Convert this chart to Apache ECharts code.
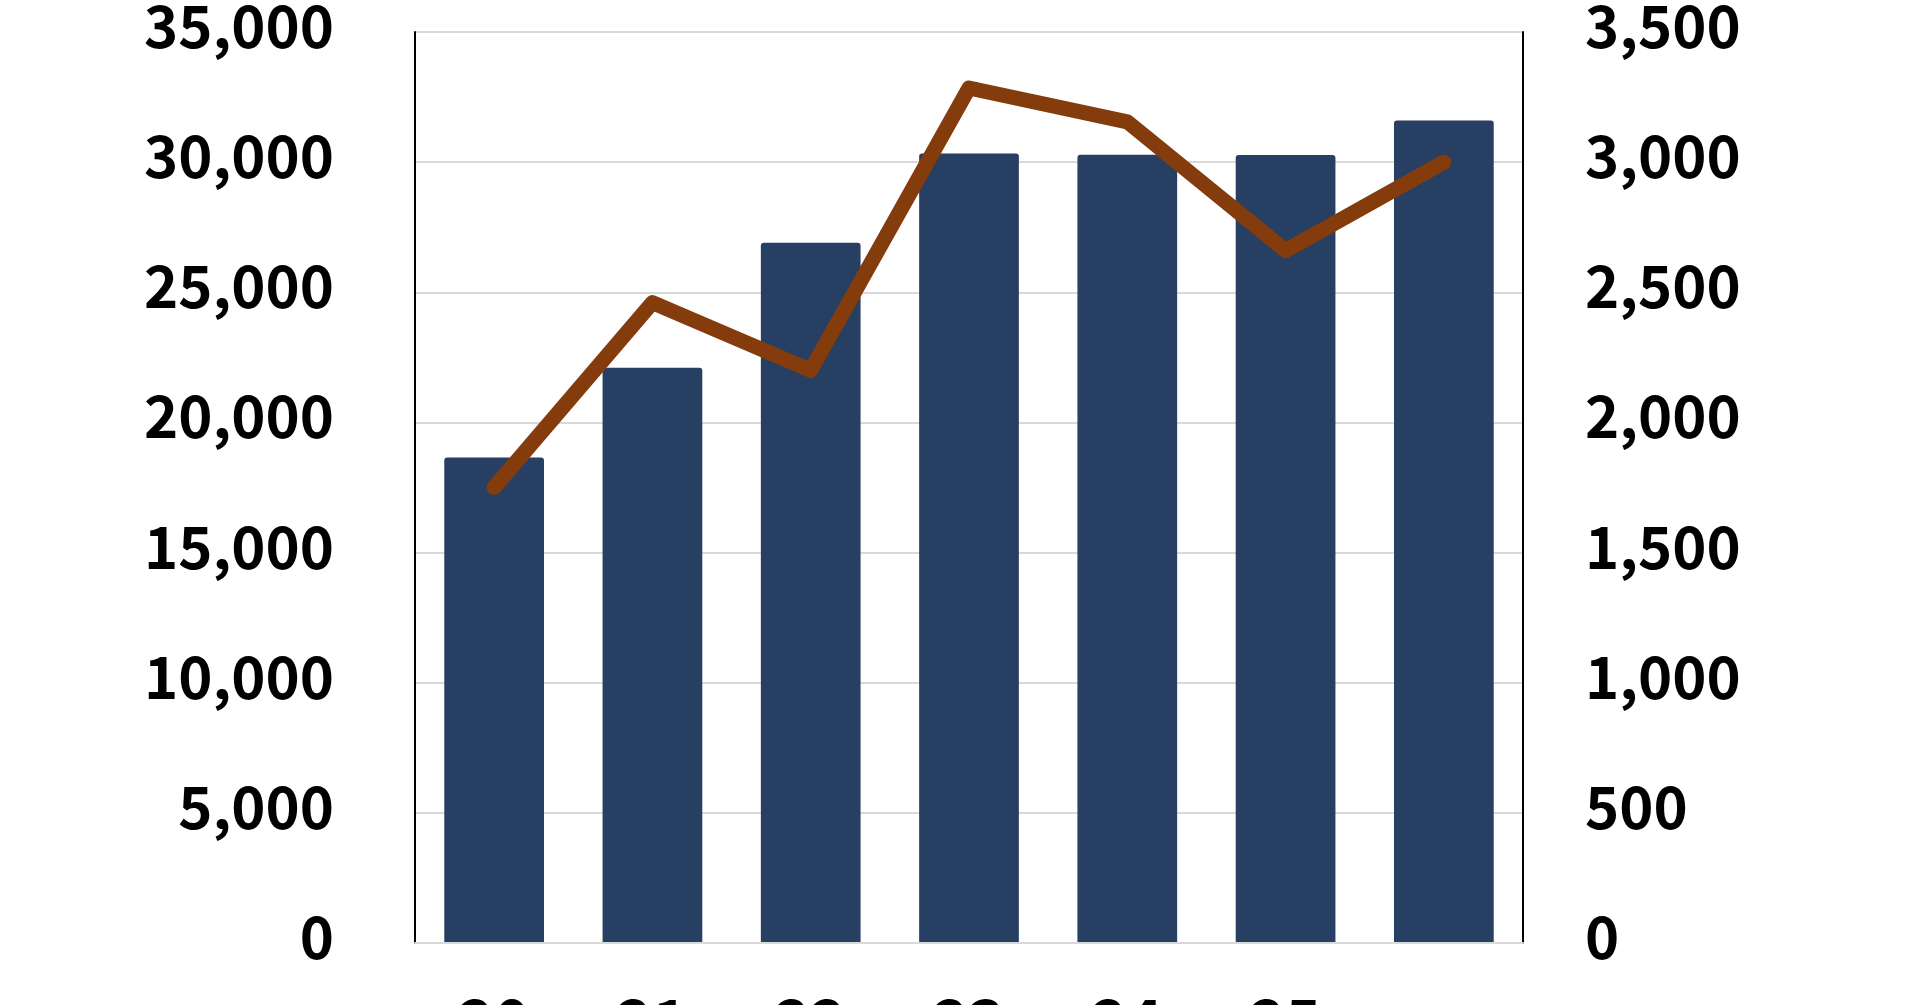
<!DOCTYPE html>
<html>
<head>
<meta charset="utf-8">
<script src="https://cdn.jsdelivr.net/npm/echarts@6/dist/echarts.min.js"></script>
<style>
html,body{margin:0;padding:0;background:#fff;}
#c{width:1920px;height:1005px;}
</style>
</head>
<body>
<div id="c"></div>
<script>
const categories = ['20', '21', '22', '23', '24', '25', ''];
const barValues = [18650, 22100, 26900, 30330, 30280, 30270, 31600];
const lineValues = [1750, 2460, 2200, 3285, 3155, 2660, 3000];
const leftTicks = { min: 0, max: 35000, interval: 5000 };
const rightTicks = { min: 0, max: 3500, interval: 500 };

const FONT = '"Noto Sans CJK JP", "Noto Sans", sans-serif';
const fmt = v => '{a|' + v.toLocaleString('en-US') + '}';
const richLabel = { a: { fontFamily: FONT, fontWeight: 'bold', fontSize: 58, color: '#000', padding: [0, 0, 12, 0] } };

const chart = echarts.init(document.getElementById('c'));
chart.setOption({
  animation: false,
  backgroundColor: '#ffffff',
  grid: { left: 415, right: 397, top: 32, bottom: 62, containLabel: false, outerBoundsMode: 'none' },
  xAxis: [
    {
      type: 'category',
      data: categories,
      position: 'bottom',
      axisLine: { show: true, lineStyle: { color: '#d9d9d9', width: 2 } },
      axisTick: { show: false },
      axisLabel: { margin: 47, color: '#000', fontFamily: FONT, fontWeight: 'bold', fontSize: 60 },
      z: 5
    },
    {
      type: 'category',
      data: categories,
      position: 'top',
      axisLine: { show: true, lineStyle: { color: '#000', width: 2 } },
      axisTick: { show: false },
      axisLabel: { show: false }
    }
  ],
  yAxis: [
    {
      type: 'value',
      min: leftTicks.min, max: leftTicks.max, interval: leftTicks.interval,
      position: 'left',
      axisLine: { show: true, lineStyle: { color: '#000', width: 2 } },
      axisTick: { show: false },
      splitLine: { show: true, lineStyle: { color: '#d9d9d9', width: 2 } },
      axisLabel: { margin: 81, formatter: fmt, rich: richLabel }
    },
    {
      type: 'value',
      min: rightTicks.min, max: rightTicks.max, interval: rightTicks.interval,
      position: 'right',
      axisLine: { show: true, lineStyle: { color: '#000', width: 2 } },
      axisTick: { show: false },
      splitLine: { show: false },
      axisLabel: { margin: 62, formatter: fmt, rich: richLabel }
    }
  ],
  series: [
    {
      type: 'bar',
      data: barValues,
      yAxisIndex: 0,
      barCategoryGap: '37%',
      itemStyle: { color: '#263f62', borderRadius: [3, 3, 0, 0] }
    },
    {
      type: 'line',
      data: lineValues,
      yAxisIndex: 1,
      symbol: 'none',
      lineStyle: { color: '#843c0c', width: 15, cap: 'round', join: 'round' },
      z: 3
    }
  ]
});
</script>
</body>
</html>
